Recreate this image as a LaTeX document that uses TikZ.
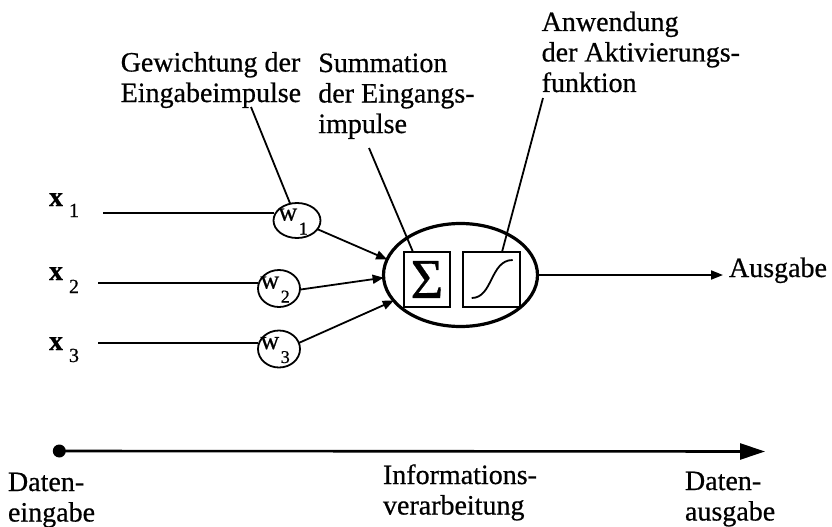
\documentclass[tikz,border=0pt]{standalone}
\usepackage{fontspec}
\setmainfont{Liberation Serif}[FakeBold=0.6]
\usetikzlibrary{shapes.geometric,arrows.meta,calc}
\newcommand{\wlab}[1]{\smash{\makebox[0pt][l]{\hspace*{-18.5pt}\fontsize{26}{26}\selectfont w\kern1.5pt\raisebox{-14pt}{\fontsize{18}{18}\selectfont #1}}}}
\newcommand{\xlab}[2]{{\bfseries x}\kern6pt\raisebox{#2}{\fontsize{20}{20}\selectfont #1}}
\begin{document}
\begin{tikzpicture}[x=1pt,y=-1pt,
  txt/.style={inner sep=0pt, outer sep=0pt, anchor=base west, align=left, font=\fontsize{28}{30.5}\selectfont},
  wnode/.style={draw, ellipse, line width=1.8pt, inner sep=0pt, outer sep=0pt},
  ln/.style={line width=1.8pt},
  arr/.style={line width=1.8pt, -{Triangle[length=11pt,width=9pt]}},
  boxn/.style={draw, line width=1.8pt, inner sep=0pt, outer sep=0pt, minimum height=55pt}
]
\useasboundingbox (0,0) rectangle (832,527);

% top labels (anchored at the baseline of their last line)
\node[txt] (lw) at (120.7,102) {Gewichtung der\\Eingabeimpulse};
\node[txt] (ls) at (318.3,133) {Summation\\der Eingangs-\\impulse};
\node[txt] (la) at (541.7,92) {Anwendung\\der Aktivierungs-\\funktion};
\coordinate (cw) at (251,107);
\coordinate (cs) at (369,148);
\coordinate (ca) at (543,98);

% inputs
\node[txt] (x1) at (49,206) {\xlab{1}{-11pt}};
\node[txt] (x2) at (49,280) {\xlab{2}{-13pt}};
\node[txt] (x3) at (49,350) {\xlab{3}{-12pt}};
\coordinate (s1) at (103,213);
\coordinate (s2) at (98,283);
\coordinate (s3) at (98,343);

% weights
\node[wnode, minimum width=47pt, minimum height=35pt] (w1) at (297,220.5) {\wlab{1}};
\node[wnode, minimum width=42pt, minimum height=37pt] (w2) at (279,288.5) {\wlab{2}};
\node[wnode, minimum width=42pt, minimum height=37pt] (w3) at (279,349) {\wlab{3}};

\draw[ln] (s1) -- (s1 -| w1.west);
\draw[ln] (s2) -- (s2 -| w2.west);
\draw[ln] (s3) -- (s3 -| w3.west);

% neuron
\node[draw, ellipse, line width=3.2pt, inner sep=0pt, outer sep=0pt, minimum width=154pt, minimum height=103pt] (n) at (460.5,275) {};
\node[boxn, minimum width=46pt, font=\fontsize{56}{56}\selectfont] (sum) at (427,279.5) {Σ};
\node[boxn, minimum width=57pt] (sg) at (491.5,279.5) {};
\draw[ln] (471.7,298) .. controls (493,298) and (490,260) .. (512.7,260);

% leaders
\draw[ln] (cw) -- (w1);
\draw[ln] (cs) -- ([xshift=-14pt]sum.north);
\draw[ln] (ca) -- ([xshift=10.5pt]sg.north);

% weighted inputs
\draw[arr] (w1.337) -- (n.168.5);
\draw[arr] (w2.357) -- (n.182);
\draw[arr] (w3.17.6) -- (n.201);

% output
\node[txt] (out) at (729,277) {Ausgabe};
\draw[line width=1.8pt, -{Triangle[length=12pt,width=9pt]}, shorten >=6pt] (n.east) -- (n.east -| out.west);

% time axis
\node[circle, fill=black, inner sep=0pt, minimum size=13pt] (d0) at (59.3,451) {};
\coordinate (d1) at (765,451.5);
\draw[line width=2.6pt, -{Triangle[length=25pt,width=16pt]}] (d0.center) -- (d1);
\node[txt] (de) at (8,521.5) {Daten-\\eingabe};
\node[txt] (iv) at (383,514.5) {Informations-\\verarbeitung};
\node[txt] (da) at (685,520.5) {Daten-\\ausgabe};
\end{tikzpicture}
\end{document}
